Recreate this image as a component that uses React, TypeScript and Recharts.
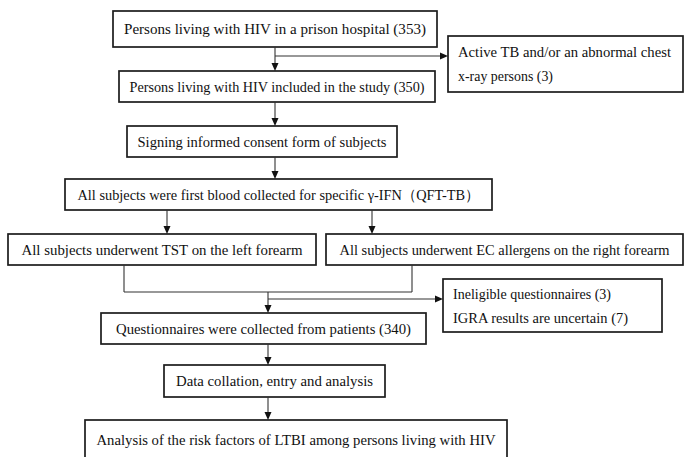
import { ScatterChart, Scatter, XAxis, YAxis, ReferenceArea, ReferenceLine } from "recharts";

// study flow: main steps top to bottom
const flowSteps = [
    "Persons living with HIV in a prison hospital (353)",
    "Persons living with HIV included in the study (350)",
    "Signing informed consent form of subjects",
    "All subjects were first blood collected for specific γ-IFN（QFT-TB）",
    "All subjects underwent TST on the left forearm",
    "All subjects underwent EC allergens on the right forearm",
    "Questionnaires were collected from patients (340)",
    "Data collation, entry and analysis",
    "Analysis of the risk factors of LTBI among persons living with HIV",
];

// side boxes: persons taken out of the flow
const exclusionNotes = [
    ["Active TB and/or an abnormal chest", "x-ray persons (3)"],
    ["Ineligible questionnaires (3)", "IGRA results are uncertain (7)"],
];

// ---- layout (axis units = page pixels) ----
const W = 685;
const H = 457;

// [x1, x2, y1, y2]
const stepBoxes = [
    [113, 437, 11, 47],
    [119, 435, 71, 102],
    [127, 397, 126, 157],
    [65, 492, 179, 210],
    [8, 316, 234, 265],
    [326, 683, 234, 265],
    [101, 426, 313, 344],
    [164, 385, 365, 397],
    [85, 507, 420, 460],
];
const stepTextWidths = [302, 295, 249, 402, 281, 330, 295, 197, 399];

const noteBoxes = [
    [448, 683, 36, 92],
    [443, 662, 279, 332],
];
const noteTextWidths = [
    [213, 95],
    [158, 175],
];

// [x1, y1, x2, y2, arrowhead]
const connectors: Array<[number, number, number, number, boolean]> = [
    [275, 47, 275, 71, true],
    [275, 56, 448, 56, true],
    [275, 102, 275, 126, true],
    [275, 157, 275, 179, true],
    [167, 210, 167, 234, true],
    [372, 210, 372, 234, true],
    [124, 265, 124, 292, false],
    [412, 265, 412, 292, false],
    [124, 292, 412, 292, false],
    [268, 292, 268, 313, true],
    [268, 299, 443, 299, true],
    [268, 344, 268, 365, true],
    [268, 397, 268, 420, true],
];

const FONT = "'Liberation Serif', 'Times New Roman', serif";

const boxShape = (lines: string[], widths: number[], align: "center" | "left") => (props: any) => {
    const { x, y, width, height } = props;
    const lineGap = 24;
    const firstY = y + height / 2 - ((lines.length - 1) * lineGap) / 2;
    return (
        <g>
            <rect x={x} y={y} width={width} height={height} fill="#fff" stroke="#1c1c1c" strokeWidth={1.7} />
            {lines.map((t, i) => (
                <text
                    key={i}
                    x={align === "center" ? x + width / 2 : x + 10}
                    y={firstY + i * lineGap}
                    textAnchor={align === "center" ? "middle" : "start"}
                    dominantBaseline="central"
                    fontSize={15}
                    fontFamily={FONT}
                    fill="#111"
                    textLength={widths[i]}
                    lengthAdjust="spacingAndGlyphs"
                >
                    {t}
                </text>
            ))}
        </g>
    );
};

const connectorShape = (arrow: boolean) => (props: any) => {
    const { x1, y1, x2, y2 } = props;
    const len = Math.hypot(x2 - x1, y2 - y1) || 1;
    const ux = (x2 - x1) / len;
    const uy = (y2 - y1) / len;
    const head = 8;
    const half = 3.5;
    const bx = x2 - ux * head;
    const by = y2 - uy * head;
    return (
        <g>
            <line x1={x1} y1={y1} x2={arrow ? bx : x2} y2={arrow ? by : y2} stroke="#333" strokeWidth={1.1} />
            {arrow && (
                <polygon
                    points={`${x2},${y2} ${bx - uy * half},${by + ux * half} ${bx + uy * half},${by - ux * half}`}
                    fill="#111"
                />
            )}
        </g>
    );
};

export default function App() {
    return (
        <div style={{ position: "absolute", left: 0, top: 0, width: W, height: H, background: "#fff" }}>
            <ScatterChart width={W} height={H} margin={{ top: 0, right: 0, bottom: 0, left: 0 }}>
                <XAxis type="number" dataKey="x" domain={[0, W]} allowDataOverflow hide />
                <YAxis type="number" dataKey="y" domain={[0, H]} allowDataOverflow reversed hide />
                <Scatter data={[]} isAnimationActive={false} />
                {connectors.map(([ax, ay, bx, by, arrow], i) => (
                    <ReferenceLine
                        key={`c-${i}`}
                        segment={[{ x: ax, y: ay }, { x: bx, y: by }]}
                        ifOverflow="visible"
                        shape={connectorShape(arrow)}
                    />
                ))}
                {flowSteps.map((label, i) => {
                    const [x1, x2, y1, y2] = stepBoxes[i];
                    return (
                        <ReferenceArea
                            key={`s-${i}`}
                            x1={x1}
                            x2={x2}
                            y1={y1}
                            y2={y2}
                            ifOverflow="visible"
                            shape={boxShape([label], [stepTextWidths[i]], "center")}
                        />
                    );
                })}
                {exclusionNotes.map((lines, i) => {
                    const [x1, x2, y1, y2] = noteBoxes[i];
                    return (
                        <ReferenceArea
                            key={`n-${i}`}
                            x1={x1}
                            x2={x2}
                            y1={y1}
                            y2={y2}
                            ifOverflow="visible"
                            shape={boxShape(lines, noteTextWidths[i], "left")}
                        />
                    );
                })}
            </ScatterChart>
        </div>
    );
}
